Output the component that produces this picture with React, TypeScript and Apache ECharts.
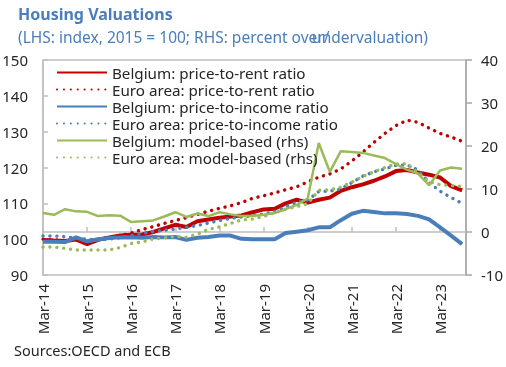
import React, { useEffect, useRef } from 'react';
import * as echarts from 'echarts';

const yearTicks = ['Mar-14', 'Mar-15', 'Mar-16', 'Mar-17', 'Mar-18', 'Mar-19', 'Mar-20', 'Mar-21', 'Mar-22', 'Mar-23'];

// Quarterly values, Mar-14 ... Sep-23 (39 quarters)
const belgiumPriceToRent = [99.8, 99.6, 99.5, 99.9, 98.6, 99.8, 100.5, 101.0, 101.2, 101.3, 102.0, 103.0, 104.0, 103.4, 105.0, 105.5, 106.0, 106.3, 106.6, 107.5, 108.3, 108.5, 110.0, 111.0, 110.2, 111.0, 111.6, 113.5, 114.5, 115.3, 116.3, 117.5, 119.0, 119.3, 118.6, 118.0, 117.2, 114.8, 113.6];
const euroPriceToRent = [100.0, 99.8, 99.6, 99.6, 99.5, 100.0, 100.5, 101.0, 101.7, 102.7, 103.5, 104.4, 105.2, 106.0, 106.9, 107.8, 108.6, 109.3, 110.2, 111.4, 112.1, 112.9, 113.8, 114.6, 116.0, 117.3, 118.2, 119.6, 121.8, 124.3, 127.0, 129.5, 131.7, 133.2, 132.6, 131.0, 129.5, 128.5, 127.3];
const belgiumPriceToIncome = [99.3, 99.3, 99.2, 100.5, 99.4, 100.0, 100.3, 100.5, 100.5, 100.4, 100.6, 100.5, 100.6, 99.8, 100.4, 100.6, 101.0, 101.0, 100.1, 100.0, 100.0, 100.0, 101.7, 102.1, 102.5, 103.3, 103.3, 105.3, 107.1, 107.9, 107.6, 107.2, 107.2, 107.0, 106.5, 105.5, 103.3, 101.0, 98.6];
const euroPriceToIncome = [100.9, 100.9, 100.7, 100.3, 100.0, 99.8, 100.0, 100.4, 101.0, 101.6, 102.1, 102.5, 102.8, 103.3, 103.8, 104.5, 105.2, 105.8, 106.2, 106.5, 107.0, 107.7, 109.0, 110.3, 110.9, 113.3, 113.4, 114.0, 115.8, 117.6, 118.8, 119.6, 120.6, 120.7, 119.3, 115.8, 113.4, 111.6, 110.0];
const belgiumModel = [4.4, 4.0, 5.3, 4.8, 4.7, 3.7, 3.9, 3.8, 2.3, 2.5, 2.7, 3.6, 4.6, 3.5, 4.3, 3.7, 4.6, 4.1, 3.7, 3.7, 4.0, 4.4, 5.3, 6.3, 7.8, 20.7, 14.0, 18.8, 18.6, 18.4, 17.8, 17.2, 15.8, 14.5, 13.6, 10.9, 14.3, 15.0, 14.7];
const euroModel = [-3.5, -3.5, -3.8, -4.2, -4.2, -4.2, -4.2, -3.6, -2.7, -2.3, -1.6, -1.4, -1.0, -1.2, -0.5, 0.6, 1.2, 2.0, 2.8, 3.0, 3.6, 4.5, 5.3, 5.9, 6.6, 9.7, 9.8, 10.4, 11.6, 12.9, 14.0, 15.0, 15.8, 15.9, 13.8, 11.7, 11.0, 10.8, 10.6];

const RED = '#C00000';
const BLUE = '#4A7EBB';
const GREEN = '#9BBB59';
const AXIS = '#BFBFBF';
const TEXT = '#262626';
const FONT = '"Noto Sans", "Open Sans", sans-serif';

const pts = (arr: number[]) => arr.map((v, i) => [i, v]);
const DOT: any = { type: [0.1, 6.8], cap: 'round', width: 3.4 };

export default function App() {
  const ref = useRef<HTMLDivElement>(null);
  useEffect(() => {
    const chart = echarts.init(ref.current!, null, { renderer: 'svg' });
    const mkSeries = (name: string, arr: number[], axis: number, color: string, ls: any) => ({
      name,
      type: 'line',
      yAxisIndex: axis,
      data: pts(arr),
      symbol: 'none',
      showSymbol: false,
      itemStyle: { color },
      lineStyle: { color, ...ls },
      emphasis: { disabled: true },
    });
    chart.setOption({
      animation: false,
      textStyle: { fontFamily: FONT },
      title: [
        { text: 'Housing Valuations', left: 18, top: 6, padding: 0, textStyle: { fontFamily: FONT, fontSize: 16, fontWeight: 'bold', color: BLUE } },
        { text: '(LHS: index, 2015 = 100; RHS: percent over/', left: 18, top: 29, padding: 0, textStyle: { fontFamily: FONT, fontSize: 15.5, fontWeight: 'normal', color: BLUE } },
        { text: 'undervaluation)', right: 78, top: 29, padding: 0, textStyle: { fontFamily: FONT, fontSize: 15.5, fontWeight: 'normal', color: BLUE } },
        { text: 'Sources:OECD and ECB', left: 14, top: 342, padding: 0, textStyle: { fontFamily: FONT, fontSize: 14.5, fontWeight: 'normal', color: TEXT } },
      ],
      grid: { left: 43, right: 40, top: 60, bottom: 92, show: true, borderColor: AXIS, borderWidth: 1.5, containLabel: false, outerBoundsMode: 'none' },
      legend: {
        orient: 'vertical',
        left: 56,
        top: 64,
        padding: 0,
        itemWidth: 50,
        itemHeight: 10,
        itemGap: 0,
        itemStyle: { opacity: 0 },
        textStyle: { fontFamily: FONT, fontSize: 15.2, color: TEXT, lineHeight: 17 },
        data: [
          'Belgium: price-to-rent ratio',
          'Euro area: price-to-rent ratio',
          'Belgium: price-to-income ratio',
          'Euro area: price-to-income ratio',
          'Belgium: model-based (rhs)',
          'Euro area: model-based (rhs)',
        ],
      },
      xAxis: {
        type: 'value',
        min: 0,
        max: 38.35,
        interval: 4,
        splitLine: { show: false },
        axisLine: { show: true, lineStyle: { color: AXIS, width: 1.5 } },
        axisTick: { show: true, inside: true, length: 5, lineStyle: { color: AXIS, width: 1.5 } },
        axisLabel: {
          rotate: 90,
          margin: 9,
          fontFamily: FONT,
          fontSize: 15,
          color: TEXT,
          showMaxLabel: false,
          formatter: (v: number) => {
            const i = Math.round(v);
            if (Math.abs(v - i) > 1e-6 || i % 4 !== 0) return '';
            return yearTicks[i / 4] ?? '';
          },
        },
      },
      yAxis: [
        {
          type: 'value',
          position: 'left',
          min: 90,
          max: 150,
          interval: 10,
          splitLine: { show: false },
          axisLine: { show: true, lineStyle: { color: AXIS, width: 1.5 } },
          axisTick: { show: true, inside: true, length: 5, lineStyle: { color: AXIS, width: 1.5 } },
          axisLabel: { margin: 15, fontFamily: FONT, fontSize: 15, color: TEXT },
        },
        {
          type: 'value',
          position: 'right',
          min: -10,
          max: 40,
          interval: 10,
          splitLine: { show: false },
          axisLine: { show: true, lineStyle: { color: '#A6A6A6', width: 1.5 } },
          axisTick: { show: true, inside: false, length: 6, lineStyle: { color: '#A6A6A6', width: 1.5 } },
          axisLabel: { margin: 15, fontFamily: FONT, fontSize: 15, color: TEXT },
        },
      ],
      series: [
        mkSeries('Belgium: price-to-rent ratio', belgiumPriceToRent, 0, RED, { width: 4 }),
        mkSeries('Euro area: price-to-rent ratio', euroPriceToRent, 0, RED, DOT),
        mkSeries('Belgium: price-to-income ratio', belgiumPriceToIncome, 0, BLUE, { width: 4 }),
        mkSeries('Euro area: price-to-income ratio', euroPriceToIncome, 0, BLUE, DOT),
        mkSeries('Belgium: model-based (rhs)', belgiumModel, 1, GREEN, { width: 2.5 }),
        mkSeries('Euro area: model-based (rhs)', euroModel, 1, GREEN, DOT),
      ],
    });
    return () => chart.dispose();
  }, []);
  return <div ref={ref} style={{ position: 'fixed', left: 0, top: 0, width: 506, height: 367 }} />;
}
